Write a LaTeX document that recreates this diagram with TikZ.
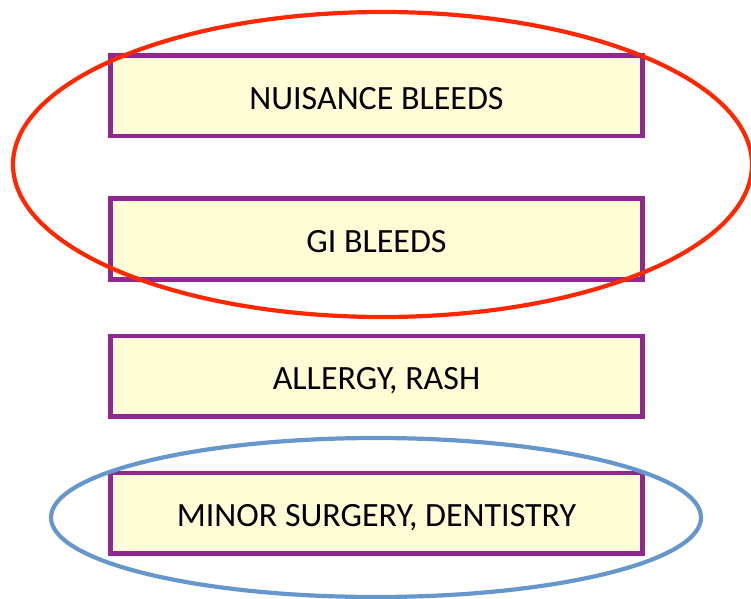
\documentclass[tikz,border=0pt]{standalone}
\usepackage{fontspec}
\setmainfont{Carlito}
\definecolor{boxpurple}{RGB}{146,39,143}
\definecolor{boxfill}{RGB}{255,253,213}
\definecolor{ringred}{RGB}{255,40,0}
\definecolor{ringblue}{RGB}{102,151,204}
\tikzset{
  itembox/.style={draw=boxpurple, fill=boxfill, line width=4.5bp, minimum width=532bp, minimum height=80.5bp, inner sep=0pt},
  itemtext/.style={anchor=base, font=\fontsize{34bp}{40bp}\selectfont, inner sep=0pt},
  ring/.style={line width=4.2bp}
}
\begin{document}
\begin{tikzpicture}[x=1bp,y=-1bp]
\useasboundingbox (0,0) rectangle (751,599);
\node[itembox] (b1) at (376.5,95.75) {};
\node[itembox] (b2) at (376.5,239) {};
\node[itembox] (b3) at (376.5,376) {};
\node[itembox] (b4) at (376.5,513) {};
\node[itemtext] (t1) at (376.5,110) {NUISANCE BLEEDS};
\node[itemtext] (t2) at (376.5,252.5) {GI BLEEDS};
\node[itemtext] (t3) at (376.5,389.5) {ALLERGY, RASH};
\node[itemtext] (t4) at (376.5,526.5) {MINOR SURGERY, DENTISTRY};
\draw[ring, ringred] (382.5,164.5) ellipse [x radius=369.5, y radius=152.5];
\draw[ring, ringblue] (376,517.5) ellipse [x radius=325, y radius=79.5];
\end{tikzpicture}
\end{document}
